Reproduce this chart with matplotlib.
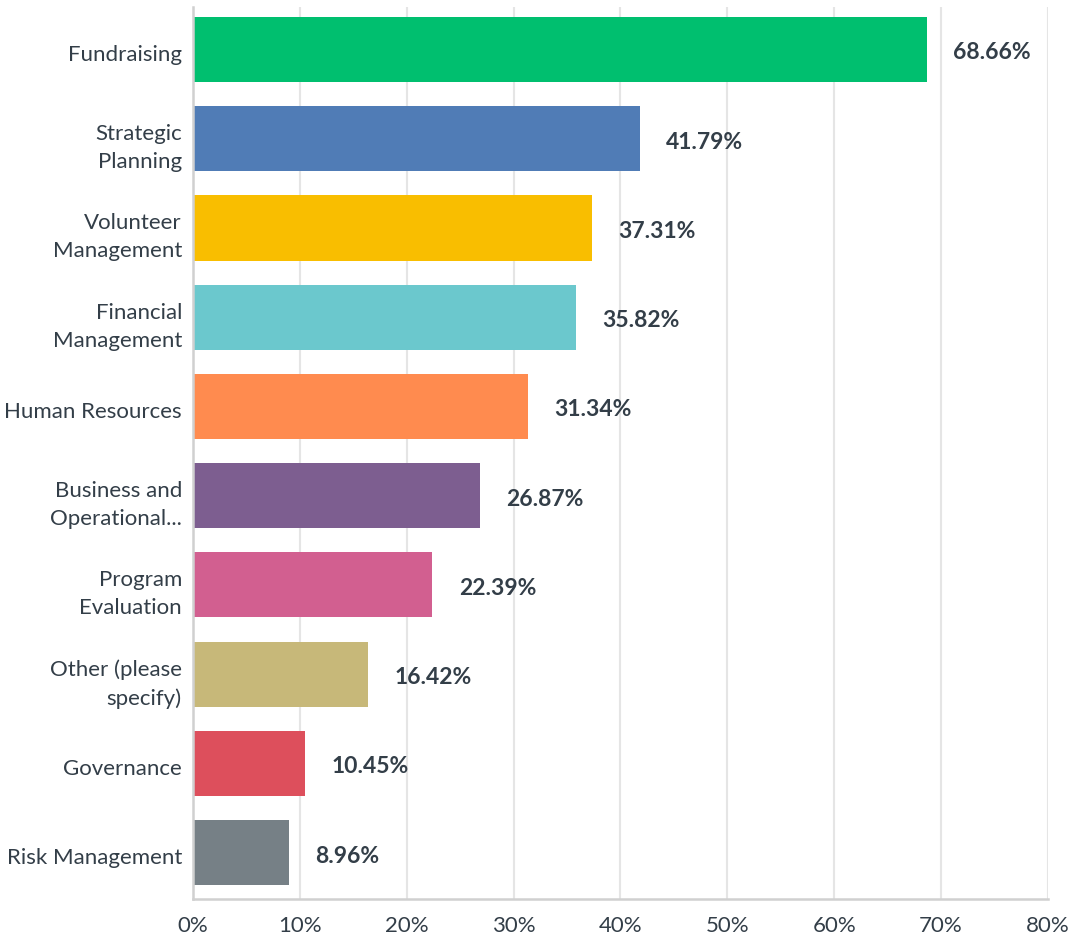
import matplotlib.pyplot as plt
from matplotlib.transforms import ScaledTranslation

categories = [
    "Fundraising",
    "Strategic\nPlanning",
    "Volunteer\nManagement",
    "Financial\nManagement",
    "Human Resources",
    "Business and\nOperational...",
    "Program\nEvaluation",
    "Other (please\nspecify)",
    "Governance",
    "Risk Management",
]
values = [68.66, 41.79, 37.31, 35.82, 31.34, 26.87, 22.39, 16.42, 10.45, 8.96]
colors = ["#00bf6f", "#507cb6", "#f9be00", "#6bc8cd", "#ff8b4f",
          "#7d5e90", "#d25f90", "#c7b879", "#dd4f5c", "#768086"]
x_ticks = [0, 10, 20, 30, 40, 50, 60, 70, 80]

text_color = "#333e48"
grid_color = "#e5e5e5"
plt.rcParams["font.family"] = ["Lato", "DejaVu Sans"]

fig = plt.figure(figsize=(10.71, 9.41), dpi=100)
ax = fig.add_axes([0.1802, 0.0446, 0.7983, 0.948])

pos = list(range(len(categories)))
ax.barh(pos, values, height=0.73, color=colors, zorder=2)
for p, v in zip(pos, values):
    ax.annotate(f"{v:.2f}%", xy=(v, p), xytext=(19, -2.5), textcoords="offset points",
                ha="left", va="center", fontsize=16.5, fontweight="bold", color=text_color)

ax.set_xlim(0, 80)
ax.set_ylim(9.52, -0.476)
ax.set_xticks(x_ticks)
ax.set_xticklabels([f"{t}%" for t in x_ticks])
ax.set_yticks(pos)
ax.set_yticklabels(categories, linespacing=1.5)
ax.tick_params(axis="both", length=0, labelsize=16, labelcolor=text_color)
ax.tick_params(axis="x", pad=12)
ax.tick_params(axis="y", pad=8)

# nudge the category labels down a little
shift = ScaledTranslation(0, -2.5 / 72, fig.dpi_scale_trans)
for lbl in ax.get_yticklabels():
    lbl.set_transform(lbl.get_transform() + shift)

ax.xaxis.grid(True, color=grid_color, linewidth=1.5, zorder=0)
ax.set_axisbelow(True)
for s in ["top", "right"]:
    ax.spines[s].set_visible(False)
for s in ["left", "bottom"]:
    ax.spines[s].set_color("#d0d0d0")
    ax.spines[s].set_linewidth(1.8)
    ax.spines[s].set_zorder(3)

fig.savefig("out.png", dpi=100)
